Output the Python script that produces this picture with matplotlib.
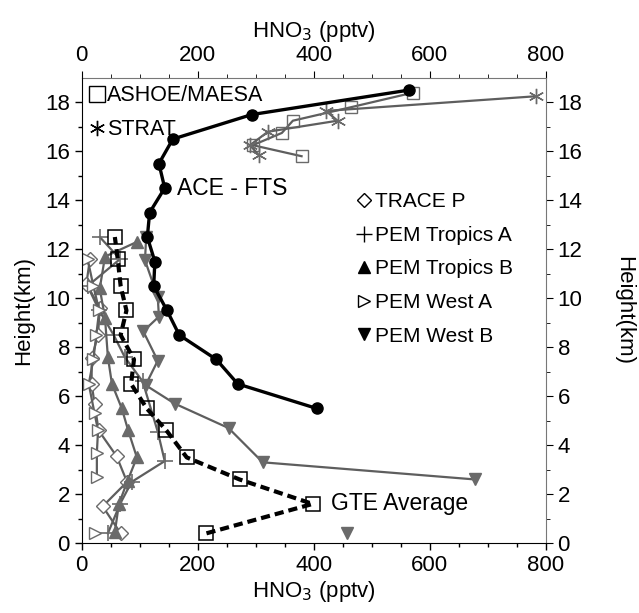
import numpy as np
import matplotlib
matplotlib.use("Agg")
import matplotlib.pyplot as plt
from matplotlib.lines import Line2D

plt.rcParams['font.family'] = ['Liberation Sans', 'DejaVu Sans']

# ACE-FTS profile
ace_h = [18.5, 17.5, 16.5, 15.5, 14.5, 13.5, 12.5, 11.5, 10.5, 9.5, 8.5, 7.5, 6.5, 5.5]
ace_x = [564, 293, 157, 133, 143, 117, 113, 126, 124, 147, 168, 232, 269, 405]

# GTE average
gte_h = [0.4, 1.6, 2.6, 3.5, 4.6, 5.5, 6.5, 7.5, 8.5, 9.5, 10.5, 11.6, 12.5]
gte_x = [215, 398, 272, 181, 146, 112, 85, 90, 67, 77, 67, 62, 57]

# stratospheric campaigns
ashoe_h = [15.8, 16.25, 16.75, 17.25, 17.8, 18.4]
ashoe_x = [379, 295, 345, 364, 464, 572]
strat_h = [15.85, 16.25, 16.8, 17.25, 17.65, 18.25]
strat_x = [305, 290, 321, 441, 421, 784]

# GTE campaigns
traceP_h = [0.4, 1.5, 2.5, 3.55, 4.6, 5.7, 6.5, 7.55, 8.5, 9.6, 10.6, 11.6]
traceP_x = [67, 36, 78, 60, 29, 22, 17, 17, 28, 31, 8, 14]
ptA_h = [0.4, 1.6, 2.5, 3.35, 4.55, 6.6, 7.6, 8.5, 9.5, 10.5, 11.6, 12.5]
ptA_x = [45, 66, 86, 143, 131, 105, 74, 55, 30, 10, 66, 31]
ptB_h = [0.45, 1.6, 2.55, 3.5, 4.6, 5.5, 6.5, 7.6, 9.2, 10.4, 11.7, 12.3]
ptB_x = [57, 64, 79, 95, 80, 69, 52, 45, 40, 31, 40, 95]
pwA_h = [0.4, 1.5, 2.7, 3.7, 4.6, 5.3, 6.5, 7.5, 8.5, 9.5, 10.5, 11.6]
pwA_x = [22, np.nan, 26, 26, 28, 22, 12, 20, 25, 30, 20, 10]
pwB_h = [0.4, 1.5, 2.6, 3.3, 4.7, 5.7, 6.45, 7.45, 8.65, 9.25, 10.05, 11.55, 12.5]
pwB_x = [457, np.nan, 678, 312, 253, 160, 110, 131, 106, 133, 131, 109, 111]

gray = '#5e5e5e'
mgray = '#6a6a6a'

fig = plt.figure(figsize=(6.39, 6.13), dpi=100)
ax = fig.add_axes([0.128, 0.114, 0.726, 0.759])

ax.plot(traceP_x, traceP_h, color=gray, lw=1.6, marker='D', ms=7, mfc='white', mec=mgray, mew=1.0)
ax.plot(ptA_x, ptA_h, color=gray, lw=1.6, marker='+', ms=12, mec=mgray, mew=1.2)
ax.plot(ptB_x, ptB_h, color=gray, lw=1.6, marker='^', ms=8, mfc=mgray, mec=mgray)
ax.plot(pwA_x, pwA_h, color=gray, lw=1.6, marker='>', ms=8, mfc='white', mec=mgray, mew=1.0)
ax.plot(pwB_x, pwB_h, color=gray, lw=1.6, marker='v', ms=8, mfc=mgray, mec=mgray)
ax.plot(ashoe_x, ashoe_h, color=gray, lw=1.6, marker='s', ms=9, mfc='none', mec=mgray, mew=1.0)
ax.plot(strat_x, strat_h, color=gray, lw=1.6, marker=(6, 2, 0), ms=11, mec=mgray, mew=1.0)
ax.plot(gte_x, gte_h, color='black', lw=3, ls=(0, (2.2, 1.2)), marker='s', ms=10,
        mfc='none', mec='black', mew=1.1)
ax.plot(ace_x, ace_h, color='black', lw=2.4, marker='o', ms=8, mfc='black', mec='black')

ax.text(165, 14.5, 'ACE - FTS', fontsize=16.5, va='center', ha='left')
ax.text(430, 1.6, 'GTE Average', fontsize=16.5, va='center', ha='left')

leg1 = [Line2D([], [], ls='none', marker='s', ms=11, mfc='none', mec='black', mew=1.0),
        Line2D([], [], ls='none', marker=(6, 2, 0), ms=11, mec='black', mew=1.0)]
l1 = ax.legend(leg1, ['ASHOE/MAESA', 'STRAT'], loc='upper left', bbox_to_anchor=(-0.012, 1.012),
               frameon=False, fontsize=15.5, handlelength=0.7, handletextpad=0.15,
               labelspacing=0.6, borderaxespad=0.2)
ax.add_artist(l1)
leg2 = [Line2D([], [], ls='none', marker='D', ms=7, mfc='white', mec='black', mew=1.0),
        Line2D([], [], ls='none', marker='+', ms=12, mec='black', mew=1.0),
        Line2D([], [], ls='none', marker='^', ms=8, mfc='black', mec='black'),
        Line2D([], [], ls='none', marker='>', ms=8, mfc='white', mec='black', mew=1.0),
        Line2D([], [], ls='none', marker='v', ms=8, mfc='black', mec='black')]
ax.legend(leg2, ['TRACE P', 'PEM Tropics A', 'PEM Tropics B', 'PEM West A', 'PEM West B'],
          loc='upper left', bbox_to_anchor=(0.575, 0.772), frameon=False, fontsize=15,
          handlelength=0.7, handletextpad=0.15, labelspacing=0.7, borderaxespad=0)

ax.set_xlim(0, 800)
ax.set_ylim(0, 19)
ax.set_xticks(np.arange(0, 801, 200))
ax.set_xticks(np.arange(0, 801, 50), minor=True)
ax.set_yticks(np.arange(0, 19, 2))
ax.set_yticks(np.arange(0, 19, 1), minor=True)
ax.tick_params(which='both', direction='out', labelsize=16, width=1.0)
ax.tick_params(which='major', length=5)
ax.tick_params(which='minor', length=3)
ax.set_xlabel('HNO$_3$ (pptv)', fontsize=16, labelpad=2)
ax.set_ylabel('Height(km)', fontsize=16, labelpad=8)

sx = ax.secondary_xaxis('top')
sx.set_xticks(np.arange(0, 801, 200))
sx.set_xticks(np.arange(0, 801, 50), minor=True)
sx.tick_params(which='both', direction='out', labelsize=16, colors='black')
sx.tick_params(which='major', length=5)
sx.tick_params(which='minor', length=3)
sx.set_xlabel('HNO$_3$ (pptv)', fontsize=16, labelpad=6)
sx.spines['top'].set_color('#777777')

sy = ax.secondary_yaxis('right')
sy.set_yticks(np.arange(0, 19, 2))
sy.set_yticks(np.arange(0, 19, 1), minor=True)
sy.tick_params(which='both', direction='out', labelsize=16)
sy.tick_params(which='major', length=5)
sy.tick_params(which='minor', length=3)
sy.set_ylabel('Height(km)', fontsize=16, rotation=270, va='bottom', labelpad=22)
sy.spines['right'].set_color('#777777')

for s in ['top', 'right']:
    ax.spines[s].set_visible(False)

fig.savefig('out.png', dpi=100)
